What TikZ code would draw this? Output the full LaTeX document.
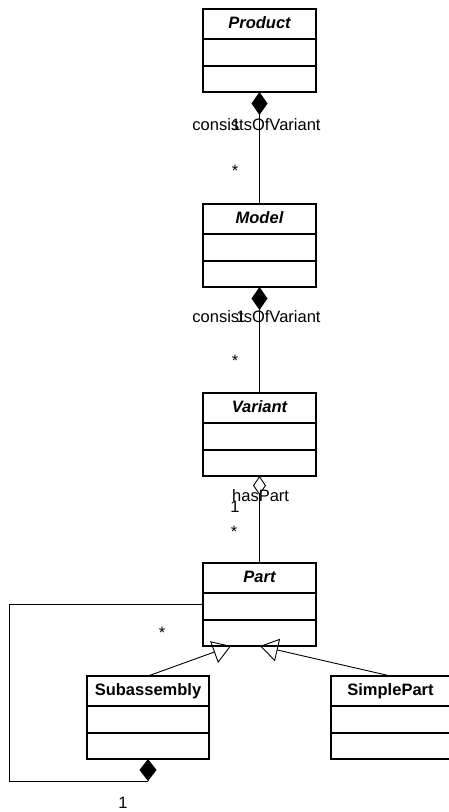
\documentclass[tikz,border=0pt]{standalone}
\usepackage{fontspec}
\setmainfont{Liberation Sans}
\usetikzlibrary{arrows.meta}

% A UML class: three compartments, title in the top one.
% #1 name, #2 left x, #3 top y, #4 width, #5 title style, #6 title text
\newcommand{\umlclass}[6]{%
  \node[classbox, minimum width=#4pt, anchor=north west] (#1) at (#2,#3) {};
  \draw[boxline] ([yshift=-30pt]#1.north west) -- ([yshift=-30pt]#1.north east);
  \draw[boxline] ([yshift=-57pt]#1.north west) -- ([yshift=-57pt]#1.north east);
  \node[#5, anchor=base] (#1-title) at ([yshift=-19.5pt]#1.north) {#6};
}

\begin{document}
\begin{tikzpicture}[x=1pt, y=-1pt,
  boxline/.style={line width=1.1pt},
  classbox/.style={draw, line width=1.1pt, rectangle, inner sep=0pt, outer sep=0pt,
    minimum height=83pt},
  abstracttitle/.style={font=\fontsize{16.5}{19}\selectfont\bfseries\itshape, inner sep=0pt},
  concretetitle/.style={font=\fontsize{16.5}{19}\selectfont\bfseries, inner sep=0pt},
  lbl/.style={font=\fontsize{16.5}{19}\selectfont, inner sep=0pt, anchor=base},
  conn/.style={line width=0.9pt},
  composition/.style={conn, {Diamond[length=23pt, width=16pt]}-},
  aggregation/.style={conn, {Diamond[open, length=19pt, width=13pt]}-},
  generalization/.style={conn, -{Triangle[open, length=18pt, width=23pt]}}
]
\useasboundingbox (0,0) rectangle (449,812);

% classes
\umlclass{product}{203}{9}{113}{abstracttitle}{Product}
\umlclass{model}{203}{204}{113}{abstracttitle}{Model}
\umlclass{variant}{203}{393}{113}{abstracttitle}{Variant}
\umlclass{part}{203}{563}{113}{abstracttitle}{Part}
\umlclass{sub}{87}{676}{122}{concretetitle}{Subassembly}
\umlclass{simple}{331}{676}{119}{concretetitle}{SimplePart}

% Product -- Model
\draw[composition] (product.south) -- (model.north);
\node[lbl] (pm-name) at (256.5,130) {consistsOfVariant};
\node[lbl] (pm-one) at (236,130) {1};
\node[lbl] (pm-many) at (235,176) {*};

% Model -- Variant
\draw[composition] (model.south) -- (variant.north);
\node[lbl] (mv-name) at (256.5,322) {consistsOfVariant};
\node[lbl] (mv-one) at (241,322) {1};
\node[lbl] (mv-many) at (235,366) {*};

% Variant -- Part
\draw[aggregation] (variant.south) -- (part.north);
\node[lbl, anchor=base west] (vp-name) at (232,501) {hasPart};
\node[lbl] (vp-one) at (235,512) {1};
\node[lbl] (vp-many) at (234,537) {*};

% generalizations
\coordinate (gen1) at (231,646);
\coordinate (gen2) at (260,646);
\draw[generalization] (sub.north) -- (gen1);
\draw[generalization] (simple.north) -- (gen2);

% Subassembly contains Parts
\coordinate (loopcorner) at (9,781);
\coordinate (loopend) at (148,781);
\draw[conn] (part.west) -| (loopcorner) -- (loopend);
\draw[conn, {Diamond[length=22pt, width=17pt]}-] (sub.south) -- (loopend);
\node[lbl] (loop-many) at (162,638) {*};
\node[lbl] (loop-one) at (123,808) {1};

\end{tikzpicture}
\end{document}
